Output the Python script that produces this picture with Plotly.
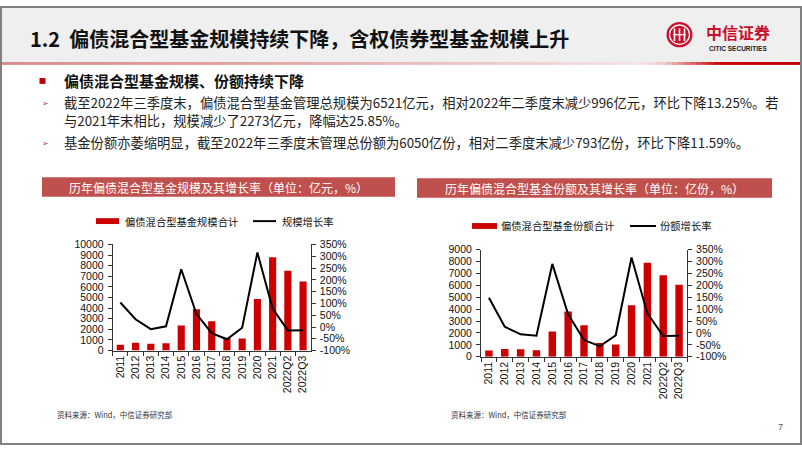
import plotly.graph_objects as go

# ---------------- data ----------------
categories = ["2011", "2012", "2013", "2014", "2015", "2016", "2017", "2018",
              "2019", "2020", "2021", "2022Q2", "2022Q3"]
scale_total = [554, 738, 646, 680, 2370, 3900, 2770, 1200, 1150, 4850, 8794, 7517, 6521]
scale_growth = [104, 33, -9, 3, 245, 55, -26, -52, -3, 316, 78, -14.5, -13.25]
share_total = [518, 654, 627, 545, 2127, 3790, 2645, 1145, 1036, 4336, 7900, 6843, 6050]
share_growth = [148, 26, -6, -12, 290, 78, -30, -56, -10, 317, 82, -13, -11.59]
pct_tickvals = [-100, -50, 0, 50, 100, 150, 200, 250, 300, 350]
pct_ticktext = ["-100%", "-50%", "0%", "50%", "100%", "150%", "200%", "250%", "300%", "350%"]

W, H = 802, 451
def px(x):
    return x / W
def py(y):
    return 1 - y / H

CJK = "Noto Sans CJK SC"
LAT = "Liberation Sans"
RED = "#CC0000"
BOX = "#C0504D"

fig = go.Figure()

fig.add_trace(go.Bar(x=categories, y=scale_total, xaxis="x", yaxis="y",
                     marker=dict(color=RED, line=dict(width=0)), width=0.47,
                     name="偏债混合型基金规模合计", showlegend=False))
fig.add_trace(go.Scatter(x=categories, y=scale_growth, xaxis="x", yaxis="y2",
                         mode="lines", line=dict(color="#000000", width=2),
                         name="规模增长率", showlegend=False))
fig.add_trace(go.Bar(x=categories, y=share_total, xaxis="x2", yaxis="y3",
                     marker=dict(color=RED, line=dict(width=0)), width=0.47,
                     name="偏债混合型基金份额合计", showlegend=False))
fig.add_trace(go.Scatter(x=categories, y=share_growth, xaxis="x2", yaxis="y4",
                         mode="lines", line=dict(color="#000000", width=2),
                         name="份额增长率", showlegend=False))

axis_line = "#333333"
tick_font = dict(family=LAT, size=10.5, color="#111111")

def xaxis_cfg(dom, anchor):
    return dict(domain=dom, anchor=anchor, type="category", showline=True,
                linecolor=axis_line, linewidth=1, ticks="outside", ticklen=4,
                tickcolor=axis_line, tickson="boundaries", tickangle=-90,
                tickfont=tick_font, showgrid=False, zeroline=False, fixedrange=True)

def yleft_cfg(dom, anchor, rng):
    return dict(domain=dom, anchor=anchor, range=rng, dtick=1000, tickformat="d",
                showline=True, linecolor=axis_line, linewidth=1, ticks="outside",
                ticklen=4, tickcolor=axis_line, tickfont=tick_font, showgrid=False,
                zeroline=False, ticklabelstandoff=2)

def yright_cfg(over, anchor):
    return dict(overlaying=over, anchor=anchor, side="right", range=[-100, 350],
                tickmode="array", tickvals=pct_tickvals, ticktext=pct_ticktext,
                showline=True, linecolor=axis_line, linewidth=1, ticks="outside",
                ticklen=4, tickcolor=axis_line, tickfont=tick_font, showgrid=False,
                zeroline=False, ticklabelstandoff=2)

fig.update_layout(
    width=W, height=H, autosize=False,
    margin=dict(l=0, r=0, t=0, b=0),
    paper_bgcolor="white", plot_bgcolor="rgba(0,0,0,0)",
    showlegend=False,
    xaxis=xaxis_cfg([px(112.7), px(310.7)], "y"),
    yaxis=yleft_cfg([py(354), py(245)], "x", [0, 10000]),
    yaxis2=yright_cfg("y", "x"),
    xaxis2=xaxis_cfg([px(481), px(687)], "y3"),
    yaxis3=yleft_cfg([py(360.3), py(250.3)], "x2", [0, 9000]),
    yaxis4=yright_cfg("y3", "x2"),
)

shapes = []
ann = []

def rect(x0, y0, x1, y1, fill, line_color=None, lw=0, layer="below"):
    shapes.append(dict(type="rect", xref="paper", yref="paper",
                       x0=px(x0), x1=px(x1), y0=py(y1), y1=py(y0),
                       fillcolor=fill, line=dict(color=line_color or fill, width=lw),
                       layer=layer))

def text(x, y, s, size, color="#000000", family=CJK, anchor="left", bold=False):
    if bold:
        s = "<b>" + s + "</b>"
    ann.append(dict(xref="paper", yref="paper", x=px(x), y=py(y), text=s,
                    showarrow=False, xanchor=anchor, yanchor="middle",
                    font=dict(family=family, size=size, color=color)))

# title bar
rect(0, 0, 802, 57.5, "#efefef")

# red gradient underline
stops = [(0, (218, 140, 140)), (300, (228, 170, 170)), (640, (245, 228, 228)),
         (665, (238, 200, 200)), (720, (200, 0, 0)), (802, (192, 0, 0))]
def col_at(x):
    for (xa, ca), (xb, cb) in zip(stops[:-1], stops[1:]):
        if xa <= x <= xb:
            t = (x - xa) / (xb - xa)
            return "rgb(%d,%d,%d)" % tuple(int(round(a + (b - a) * t)) for a, b in zip(ca, cb))
    return "rgb(192,0,0)"
step = 6
x = 0
while x < 802:
    c = col_at(x + step / 2)
    shapes.append(dict(type="rect", xref="paper", yref="paper",
                       x0=px(x), x1=px(min(x + step + 0.5, 802)), y0=py(60.5), y1=py(57.5),
                       fillcolor=c, line=dict(width=0), layer="below"))
    x += step

# outer border
shapes.append(dict(type="rect", xref="paper", yref="paper", x0=px(1), x1=px(801),
                   y0=py(450), y1=py(1), line=dict(color="#808080", width=2),
                   fillcolor="rgba(0,0,0,0)", layer="above"))

# title
text(28, 33, "1.2&nbsp;&nbsp;偏债混合型基金规模持续下降，含权债券型基金规模上升", 20,
     "#111111", bold=True)

# logo
shapes.append(dict(type="circle", xref="paper", yref="paper", x0=px(666.5), x1=px(692.5),
                   y0=py(42.5), y1=py(16.5), fillcolor="#C8102E", line=dict(width=0)))
shapes.append(dict(type="circle", xref="paper", yref="paper", x0=px(669.5), x1=px(689.5),
                   y0=py(39.5), y1=py(19.5), fillcolor="rgba(0,0,0,0)",
                   line=dict(color="white", width=1.3)))
for xv in (674.5, 679.5, 684.5):
    shapes.append(dict(type="line", xref="paper", yref="paper", x0=px(xv), x1=px(xv),
                       y0=py(36), y1=py(23), line=dict(color="white", width=1.6)))
shapes.append(dict(type="line", xref="paper", yref="paper", x0=px(673), x1=px(686),
                   y0=py(29.5), y1=py(29.5), line=dict(color="white", width=1.2)))
text(737.5, 27, "中信证券", 16, "#C8102E", anchor="center", bold=True)
text(737.5, 43.8, "CITIC SECURITIES", 6.5, "#222222", family=LAT,
     anchor="center", bold=True)

# bullets
rect(39.5, 74, 45.5, 80, "#C00000", layer="above")
text(62, 77, "偏债混合型基金规模、份额持续下降", 15, "#111111", bold=True)
for yy in (99, 140):
    text(40, yy + 1, "➢", 8, "#B04848", family="DejaVu Sans")
text(62, 99, "截至2022年三季度末，偏债混合型基金管理总规模为6521亿元，相对2022年二季度末减少996亿元，环比下降13.25%。若",
     13.3, "#222222")
text(62, 118, "与2021年末相比，规模减少了2273亿元，降幅达25.85%。", 13.3, "#222222")
text(62, 140, "基金份额亦萎缩明显，截至2022年三季度末管理总份额为6050亿份，相对二季度末减少793亿份，环比下降11.59%。",
     13.3, "#222222")

# chart header boxes
rect(42, 176, 395, 196, BOX)
text(218.5, 186, "历年偏债混合型基金规模及其增长率（单位：亿元，%）", 12, "white", anchor="center")
rect(417, 177, 772, 197, BOX)
text(594.5, 187, "历年偏债混合型基金份额及其增长率（单位：亿份，%）", 12, "white", anchor="center")

# legends
rect(96, 218, 119, 224, RED)
text(123, 221, "偏债混合型基金规模合计", 10.3, "#111111")
shapes.append(dict(type="line", xref="paper", yref="paper", x0=px(253), x1=px(276),
                   y0=py(221), y1=py(221), line=dict(color="black", width=2)))
text(280, 221, "规模增长率", 10.3, "#111111")

rect(472, 223, 497, 229, RED)
text(499, 226, "偏债混合型基金份额合计", 10.3, "#111111")
shapes.append(dict(type="line", xref="paper", yref="paper", x0=px(630), x1=px(656),
                   y0=py(226), y1=py(226), line=dict(color="black", width=2)))
text(658, 226, "份额增长率", 10.3, "#111111")

# sources and page number
text(55, 420, "资料来源：Wind，中信证券研究部", 7.5, "#333333")
text(449, 420, "资料来源：Wind，中信证券研究部", 7.5, "#333333")
text(776, 433, "7", 9, "#555555", family=LAT)

fig.update_layout(shapes=shapes, annotations=ann)
fig.write_html("out.html", config={"displayModeBar": False},
               post_script="document.body.style.margin='0';document.body.style.padding='0';")
